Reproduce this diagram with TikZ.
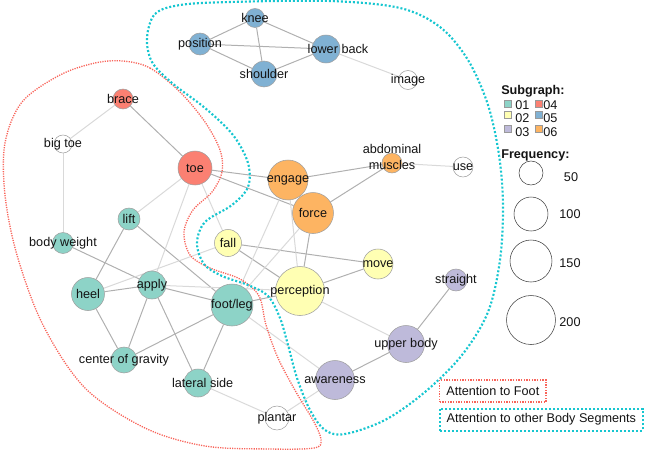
\documentclass[tikz,border=0pt]{standalone}
\usepackage{fontspec}
\setmainfont{Liberation Sans}
\usepackage{xcolor}
\definecolor{grpTeal}  {RGB}{141, 211, 199}
\definecolor{grpYellow}{RGB}{255, 255, 179}
\definecolor{grpLilac} {RGB}{190, 186, 218}
\definecolor{grpSalmon}{RGB}{251, 128, 114}
\definecolor{grpBlue}  {RGB}{128, 177, 211}
\definecolor{grpOrange}{RGB}{253, 180,  98}
\definecolor{hullRed}  {RGB}{248, 100,  90}
\definecolor{hullCyan} {RGB}{ 22, 198, 208}
\definecolor{txtInk}   {RGB}{ 20,  20,  20}
\usepackage{tikz}
\usetikzlibrary{
  backgrounds,
}

\begin{document}
\begin{tikzpicture}[
  x=0.75pt, y=-0.75pt,
  font=\fontsize{9.5}{12}\selectfont, text=txtInk,
  topic/.style={circle, draw=gray!75, inner sep=0pt, minimum size=#1*1.5pt},
  tie/.style={draw=gray!62, line width=0.75pt},
  faint/.style={draw=gray!30, line width=0.75pt},
  swatch/.style={draw=gray!80, inner sep=0pt, minimum size=5.5pt},
  freq/.style={circle, draw=black!75, inner sep=0pt, minimum size=#1*1.5pt},
  legtext/.style={anchor=west, inner sep=0pt},
  keybox/.style={anchor=west, inner xsep=5pt, minimum height=16.5pt, line width=1pt},
]
  \useasboundingbox (0,0) rectangle (650,451);

  % Topic nodes (radius in px) -- colour = subgraph
  %   05 body segments   → blue
  \node[topic=9.5, fill=grpBlue, label={center:knee}]     (kn)  at (255, 18) {};
  \node[topic=11,  fill=grpBlue, label={center:position}] (pos) at (200, 44) {};
  \node[topic=13,  fill=grpBlue, label={center:shoulder}] (sh)  at (264, 74) {};
  \node[topic=14,  fill=grpBlue, label={[xshift=9pt]center:lower back}] (lb) at (326, 49) {};
  \node[topic=9.5, fill=white,   label={center:image}]    (img) at (408, 80) {};

  %   04 toes            → salmon
  \node[topic=10, fill=grpSalmon, label={center:brace}]   (br)  at (123, 99) {};
  \node[topic=9,  fill=white,     label={center:big toe}] (bt)  at ( 63,144) {};
  \node[topic=17, fill=grpSalmon, label={center:toe}]     (toe) at (195,168) {};

  %   06 core            → orange
  \node[topic=20,   fill=grpOrange, label={center:engage}] (eng) at (288,180) {};
  \node[topic=20.5, fill=grpOrange, label={center:force}]  (frc) at (313,213) {};
  \node[topic=10,   fill=grpOrange,
        label={[align=center, yshift=4.5pt]center:abdominal\\muscles}] (abd) at (392,163) {};
  \node[topic=10,   fill=white, label={center:use}] (use) at (463,167) {};

  %   01 foot            → teal
  \node[topic=11,   fill=grpTeal, label={center:lift}]        (lift) at (129,219) {};
  \node[topic=10.5, fill=grpTeal, label={center:body weight}] (bw)   at ( 63,243) {};
  \node[topic=16.5, fill=grpTeal, label={center:heel}]        (heel) at ( 88,294) {};
  \node[topic=14,   fill=grpTeal, label={center:apply}]       (app)  at (152,285) {};
  \node[topic=21,   fill=grpTeal, label={center:foot/leg}]    (fl)   at (232,305) {};
  \node[topic=13,   fill=grpTeal, label={center:center of gravity}] (cog) at (124,360) {};
  \node[topic=14,   fill=grpTeal, label={[xshift=3.5pt]center:lateral side}] (lat) at (198,383) {};
  \node[topic=12,   fill=white,   label={center:plantar}]     (pl)   at (277,418) {};

  %   02 perception      → yellow
  \node[topic=13.5, fill=grpYellow, label={center:fall}]       (fall) at (228,243) {};
  \node[topic=24.5, fill=grpYellow, label={center:perception}] (perc) at (300,291) {};
  \node[topic=15,   fill=grpYellow, label={center:move}]       (mv)   at (378,264) {};

  %   03 posture         → lilac
  \node[topic=11,   fill=grpLilac, label={center:straight}]   (str) at (456,280) {};
  \node[topic=18.5, fill=grpLilac, label={center:upper body}] (ub)  at (406,344) {};
  \node[topic=19.5, fill=grpLilac, label={center:awareness}]  (aw)  at (335,380) {};

  \begin{scope}[on background layer]
    % Strong co-occurrences
    \draw[tie] (kn) -- (pos);
    \draw[tie] (kn) -- (sh);
    \draw[tie] (kn) -- (lb);
    \draw[tie] (pos) -- (lb);
    \draw[tie] (pos) -- (sh);
    \draw[tie] (sh) -- (lb);
    \draw[tie] (br) -- (toe);
    \draw[tie] (toe) -- (eng);
    \draw[tie] (toe) -- (frc);
    \draw[tie] (eng) -- (abd);
    \draw[tie] (frc) -- (abd);
    \draw[tie] (frc) -- (perc);
    \draw[tie] (fall) -- (mv);
    \draw[tie] (fall) -- (perc);
    \draw[tie] (perc) -- (mv);
    \draw[tie] (lift) -- (heel);
    \draw[tie] (lift) -- (fl);
    \draw[tie] (bw) -- (app);
    \draw[tie] (heel) -- (app);
    \draw[tie] (app) -- (fl);
    \draw[tie] (heel) -- (cog);
    \draw[tie] (app) -- (cog);
    \draw[tie] (app) -- (lat);
    \draw[tie] (fl) -- (cog);
    \draw[tie] (fl) -- (lat);
    \draw[tie] (fl) -- (perc);
    \draw[tie] (aw) -- (ub);
    \draw[tie] (ub) -- (str);

    % Weak co-occurrences
    \draw[faint] (lb) -- (img);
    \draw[faint] (br) -- (bt);
    \draw[faint] (bt) -- (bw);
    \draw[faint] (toe) -- (lift);
    \draw[faint] (toe) -- (app);
    \draw[faint] (toe) -- (fall);
    \draw[faint] (abd) -- (use);
    \draw[faint] (eng) -- (perc);
    \draw[faint] (eng) -- (fl);
    \draw[faint] (frc) -- (fl);
    \draw[faint] (heel) -- (fall);
    \draw[faint] (app) -- (perc);
    \draw[faint] (perc) -- (ub);
    \draw[faint] (fl) -- (aw);
    \draw[faint] (lat) -- (pl);
    \draw[faint] (pl) -- (aw);

    % Attention regions
    \draw[hullRed, line width=1pt, dash pattern=on 0.9pt off 0.9pt]
      plot[smooth cycle, tension=0.55] coordinates {
        (123,61) (150,68) (180,92) (205,122) (220,150) (222,172) (212,192)
        (193,210) (184,232) (190,255) (210,268) (240,279) (259,296) (266,325)
        (278,358) (296,392) (314,422) (321,440) (314,448) (270,449) (205,446)
        (145,428) (85,388) (43,325) (17,255) (5,195) (5,143) (22,102) (60,75)
        (95,63)};
    \draw[hullCyan, line width=1.6pt, dash pattern=on 1.5pt off 1.5pt]
      plot[smooth cycle, tension=0.55] coordinates {
        (147,38) (155,14) (180,5) (230,2) (330,1) (400,8) (440,27) (468,60)
        (488,105) (499,155) (503,205) (500,260) (488,312) (462,355) (425,392)
        (385,420) (345,434) (325,430) (310,410) (297,378) (288,345) (280,318)
        (268,296) (248,285) (222,276) (204,264) (197,243) (205,222) (232,205)
        (248,187) (248,163) (233,135) (205,108) (172,83) (152,62)};
  \end{scope}

  % Legend: subgraph colours
  \node[legtext, font=\fontsize{9.5}{12}\selectfont\bfseries] (subhd) at (501,91) {Subgraph:};
  \node[swatch, fill=grpTeal]   (sw1) at (508,104) {};
  \node[swatch, fill=grpYellow] (sw2) at (508,115) {};
  \node[swatch, fill=grpLilac]  (sw3) at (508,129) {};
  \node[swatch, fill=grpSalmon] (sw4) at (539,104) {};
  \node[swatch, fill=grpBlue]   (sw5) at (539,115) {};
  \node[swatch, fill=grpOrange] (sw6) at (539,129) {};
  \node[legtext] at (515,105) {01};
  \node[legtext] at (515,118) {02};
  \node[legtext] at (515,132) {03};
  \node[legtext] at (543,105) {04};
  \node[legtext] at (543,118) {05};
  \node[legtext] at (543,132) {06};

  % Legend: frequency scale
  \node[legtext, font=\fontsize{9.5}{12}\selectfont\bfseries] (freqhd) at (501,155) {Frequency:};
  \node[freq=12]   (f50)  at (531,173) {};
  \node[freq=17]   (f100) at (531,214) {};
  \node[freq=21]   (f150) at (531,261) {};
  \node[freq=24.5] (f200) at (531,320) {};
  \node at (571,177) {50};
  \node at (570,214) {100};
  \node at (570,263) {150};
  \node at (570,322) {200};

  % Legend: attention regions
  \node[keybox, draw=hullRed, dash pattern=on 1pt off 1pt] (keyfoot) at (439,391) {Attention to Foot};
  \node[keybox, draw=hullCyan, dash pattern=on 1.5pt off 1.5pt, line width=1.5pt] (keybody) at (439,419.5)
    {Attention to other Body Segments};
\end{tikzpicture}
\end{document}
